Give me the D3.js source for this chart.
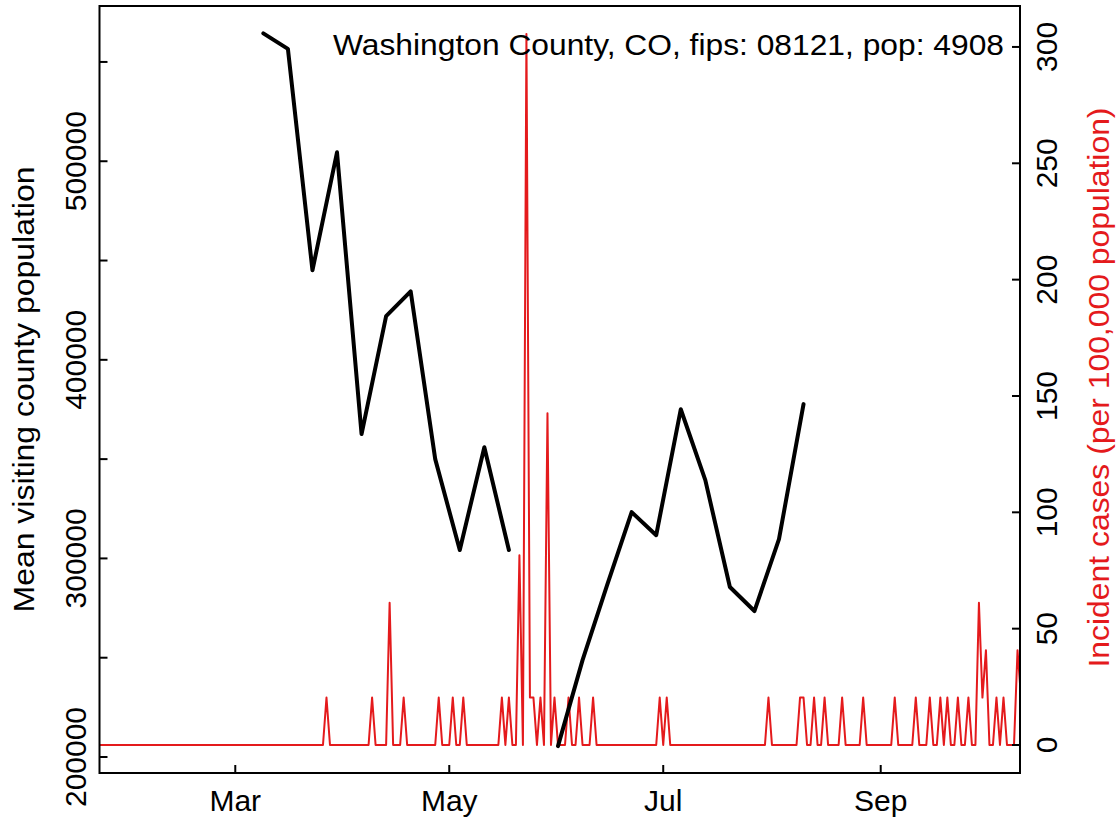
<!DOCTYPE html>
<html>
<head>
<meta charset="utf-8">
<script src="https://cdn.jsdelivr.net/npm/d3@7/dist/d3.min.js"></script>
<style>
  html, body { margin: 0; padding: 0; background: #fff; }
  svg { display: block; }
  text { font-family: "Liberation Sans", Arial, Helvetica, sans-serif; }
</style>
</head>
<body>
<svg id="chart" width="1119" height="822"></svg>
<script>
// ---------------- DATA ----------------
const titleText = "Washington County, CO, fips: 08121, pop: 4908";
const leftAxisTitle = "Mean visiting county population";
const rightAxisTitle = "Incident cases (per 100,000 population)";

// weekly mean visiting county population (null = missing week)
const visitDates = ["2020-03-09","2020-03-16","2020-03-23","2020-03-30","2020-04-06","2020-04-13",
  "2020-04-20","2020-04-27","2020-05-04","2020-05-11","2020-05-18","2020-05-25",
  "2020-06-01","2020-06-08","2020-06-15","2020-06-22","2020-06-29","2020-07-06",
  "2020-07-13","2020-07-20","2020-07-27","2020-08-03","2020-08-10"];
const visitValues = [564400, 556600, 445100, 504500, 362600, 422000,
  434500, 350000, 304200, 356000, 304200, null,
  205500, 248800, 286600, 323300, 311700, 375100,
  339400, 285600, 273500, 309700, 377700];

// daily incident cases per 100,000, starting 2020-01-22
const incidenceStart = "2020-01-22";
const incJan = [0,0,0,0,0,0,0,0,0,0];
const incFeb = [0,0,0,0,0,0,0,0,0,0, 0,0,0,0,0,0,0,0,0,0, 0,0,0,0,0,0,0,0,0];
const incMar = [0,0,0,0,0,0,0,0,0,0, 0,0,0,0,0,0,0,0,0,0, 0,0,0,0,0,0,20.37,0,0,0, 0];
const incApr = [0,0,0,0,0,0,0,0,20.37,0, 0,0,0,61.12,0,0,0,20.37,0,0, 0,0,0,0,0,0,0,20.37,0,0];
const incMay = [0,20.37,0,0,20.37,0,0,0,0,0, 0,0,0,0,0,20.37,0,20.37,0,0, 81.5,0,305.62,20.37,20.37,0,20.37,0,142.62,0, 20.37];
const incJun = [0,0,0,20.37,0,0,20.37,0,0,0, 20.37,0,0,0,0,0,0,0,0,0, 0,0,0,0,0,0,0,0,0,20.37];
const incJul = [0,20.37,0,0,0,0,0,0,0,0, 0,0,0,0,0,0,0,0,0,0, 0,0,0,0,0,0,0,0,0,0, 20.37];
const incAug = [0,0,0,0,0,0,0,0,20.37,20.37, 0,0,20.37,0,0,20.37,0,0,0,0, 20.37,0,0,0,0,0,20.37,0,0,0, 0];
const incSep = [0,0,0,0,20.37,0,0,0,0,0, 20.37,0,0,0,20.37,0,0,20.37,0,20.37, 0,0,20.37,0,0,20.37,0,0,61.12,20.37];
const incOct = [40.75,0,0,20.37,0,20.37,0,0,0,40.75, 20.37,20.37];

// axis limits and ticks
const xLimits = ["2020-01-22T07:00:00Z", "2020-10-10T17:00:00Z"];
const xTickDates = ["2020-03-01","2020-05-01","2020-07-01","2020-09-01"];
const xTickLabels = ["Mar","May","Jul","Sep"];
const leftLimits = [191946, 578170];
const leftTicks = [200000,250000,300000,350000,400000,450000,500000,550000];
const leftTickLabels = [200000,300000,400000,500000];
const rightLimits = [-12.03, 317.6];
const rightTicks = [0,50,100,150,200,250,300];

// ---------------- DRAW ----------------
const svg = d3.select("#chart");
const box = {left: 99.5, right: 1020, top: 6, bottom: 773};
const RED = "#E41A1C";
const FS = 30;

const parse = s => new Date(s.length > 10 ? s : s + "T00:00:00Z");
const x = d3.scaleUtc().domain(xLimits.map(parse)).range([box.left, box.right]);
const yL = d3.scaleLinear().domain(leftLimits).range([box.bottom, box.top]);
const yR = d3.scaleLinear().domain(rightLimits).range([box.bottom, box.top]);

svg.append("rect").attr("width", 1119).attr("height", 822).attr("fill", "#fff");

svg.append("defs").append("clipPath").attr("id", "plotclip")
  .append("rect").attr("x", box.left).attr("y", box.top)
  .attr("width", box.right - box.left).attr("height", box.bottom - box.top);

// incidence series
const incAll = [].concat(incJan, incFeb, incMar, incApr, incMay, incJun, incJul, incAug, incSep, incOct);
const start = parse(incidenceStart);
const incData = incAll.map((v, i) => ({d: d3.utcDay.offset(start, i), v}));

svg.append("path")
  .datum(incData)
  .attr("clip-path", "url(#plotclip)")
  .attr("fill", "none").attr("stroke", RED).attr("stroke-width", 2)
  .attr("stroke-linejoin", "round")
  .attr("d", d3.line().x(d => x(d.d)).y(d => yR(d.v)));

// visiting population series
const visData = visitDates.map((s, i) => ({d: parse(s), v: visitValues[i]}));
svg.append("path")
  .datum(visData)
  .attr("clip-path", "url(#plotclip)")
  .attr("fill", "none").attr("stroke", "#000").attr("stroke-width", 4)
  .attr("stroke-linejoin", "round").attr("stroke-linecap", "round")
  .attr("d", d3.line().defined(d => d.v != null).x(d => x(d.d)).y(d => yL(d.v)));

// box
svg.append("rect").attr("x", box.left).attr("y", box.top)
  .attr("width", box.right - box.left).attr("height", box.bottom - box.top)
  .attr("fill", "none").attr("stroke", "#000").attr("stroke-width", 2);

// left axis (ticks inward)
const gL = svg.append("g");
gL.selectAll("line").data(leftTicks).join("line")
  .attr("x1", box.left).attr("x2", box.left + 8)
  .attr("y1", d => yL(d)).attr("y2", d => yL(d))
  .attr("stroke", "#000").attr("stroke-width", 2);
gL.selectAll("text").data(leftTickLabels).join("text")
  .attr("transform", d => `translate(86,${yL(d)}) rotate(-90)`)
  .attr("text-anchor", "middle").attr("font-size", FS).attr("fill", "#000")
  .text(d => d);

// right axis
const gR = svg.append("g");
gR.selectAll("line").data(rightTicks).join("line")
  .attr("x1", box.right - 8).attr("x2", box.right)
  .attr("y1", d => yR(d)).attr("y2", d => yR(d))
  .attr("stroke", "#000").attr("stroke-width", 2);
gR.selectAll("text").data(rightTicks).join("text")
  .attr("transform", d => `translate(1057,${yR(d)}) rotate(-90)`)
  .attr("text-anchor", "middle").attr("font-size", FS).attr("fill", "#000")
  .text(d => d);

// bottom axis
const gB = svg.append("g");
const xt = xTickDates.map(parse);
gB.selectAll("line").data(xt).join("line")
  .attr("x1", d => x(d)).attr("x2", d => x(d))
  .attr("y1", box.bottom).attr("y2", box.bottom - 8)
  .attr("stroke", "#000").attr("stroke-width", 2);
gB.selectAll("text").data(xt).join("text")
  .attr("x", d => x(d)).attr("y", 811)
  .attr("text-anchor", "middle").attr("font-size", FS).attr("fill", "#000")
  .text((d, i) => xTickLabels[i]);

// axis titles
const midY = (box.top + box.bottom) / 2;
svg.append("text").attr("transform", `translate(34,${midY}) rotate(-90)`)
  .attr("text-anchor", "middle").attr("font-size", FS).attr("fill", "#000")
  .attr("textLength", 446).attr("lengthAdjust", "spacingAndGlyphs")
  .text(leftAxisTitle);
svg.append("text").attr("transform", `translate(1109,${midY - 2}) rotate(-90)`)
  .attr("text-anchor", "middle").attr("font-size", FS).attr("fill", RED)
  .attr("textLength", 560).attr("lengthAdjust", "spacingAndGlyphs")
  .text(rightAxisTitle);

// title
svg.append("text").attr("x", 1004).attr("y", 55)
  .attr("text-anchor", "end").attr("font-size", FS).attr("fill", "#000")
  .attr("textLength", 671).attr("lengthAdjust", "spacingAndGlyphs")
  .text(titleText);
</script>
</body>
</html>
